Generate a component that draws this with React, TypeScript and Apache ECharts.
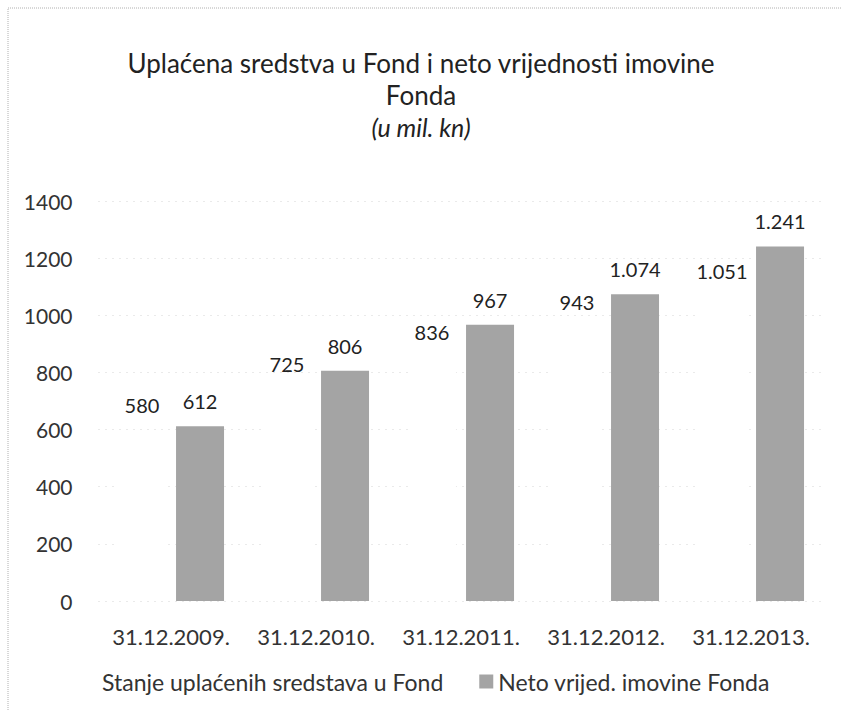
import React, { useEffect, useRef } from "react";
import * as echarts from "echarts";

const categories = ["31.12.2009.", "31.12.2010.", "31.12.2011.", "31.12.2012.", "31.12.2013."];
const uplacenaSredstva = [580, 725, 836, 943, 1051];
const netoImovina = [612, 806, 967, 1074, 1241];
const seriesNames = ["Stanje uplaćenih sredstava u Fond", "Neto vrijed. imovine Fonda"];
const titleLines = ["Uplaćena sredstva u Fond i neto vrijednosti imovine", "Fonda"];
const subtitle = "(u mil. kn)";

const FONT = "Lato";
const fmt = (v: number) => {
  const s = String(Math.round(v));
  return s.length > 3 ? s.slice(0, s.length - 3) + "." + s.slice(-3) : s;
};

export default function App() {
  const ref = useRef<HTMLDivElement>(null);
  useEffect(() => {
    const chart = echarts.init(ref.current!, null, { renderer: "svg" });
    chart.setOption({
      animation: false,
      backgroundColor: "#fff",
      textStyle: { fontFamily: FONT },
      title: {
        text: titleLines.join("\n"),
        subtext: subtitle,
        left: "center",
        top: 42,
        itemGap: 0,
        textStyle: { fontFamily: FONT, fontSize: 26, fontWeight: "normal", color: "#222", lineHeight: 32 },
        subtextStyle: { fontFamily: FONT, fontSize: 25, fontStyle: "italic", color: "#222", lineHeight: 32 },
      },
      graphic: [
        {
          type: "rect",
          shape: { x: 8, y: 8, width: 860, height: 740 },
          style: { fill: "none", stroke: "#b0b0b0", lineWidth: 1, lineDash: [1, 1] },
          silent: true,
        },
      ],
      legend: {
        left: 78,
        top: 665,
        itemWidth: 14,
        itemHeight: 14,
        itemGap: 36,
        icon: "rect",
        textStyle: { fontFamily: FONT, fontSize: 23, color: "#333" },
        data: seriesNames,
      },
      grid: { left: 98.5, right: 18.5, top: 201, bottom: 109 },
      xAxis: {
        type: "category",
        data: categories,
        axisLine: { show: false },
        axisTick: { show: false },
        axisLabel: { fontFamily: FONT, fontSize: 22, color: "#333", margin: 24, interval: 0 },
      },
      yAxis: {
        type: "value",
        min: 0,
        max: 1400,
        interval: 200,
        axisLine: { show: false },
        axisTick: { show: false },
        axisLabel: {
          fontFamily: FONT,
          fontSize: 21,
          color: "#333",
          margin: 26,
          formatter: (v: number) => String(v),
        },
        splitLine: {
          show: true,
          lineStyle: { color: "#d4d4d4", type: [1, 6], width: 1 },
        },
      },
      series: [
        {
          name: seriesNames[0],
          type: "bar",
          data: uplacenaSredstva,
          barWidth: 48,
          barGap: "21%",
          itemStyle: { color: "#ffffff" },
          label: {
            show: true,
            position: "top",
            distance: 20,
            fontFamily: FONT,
            fontSize: 20,
            color: "#222",
            formatter: (p: any) => fmt(p.value),
          },
        },
        {
          name: seriesNames[1],
          type: "bar",
          data: netoImovina,
          barWidth: 48,
          itemStyle: { color: "#a4a4a4" },
          label: {
            show: true,
            position: "top",
            distance: 15,
            fontFamily: FONT,
            fontSize: 20,
            color: "#222",
            formatter: (p: any) => fmt(p.value),
          },
        },
      ],
    });
    return () => chart.dispose();
  }, []);
  return (
    <div
      ref={ref}
      style={{ position: "fixed", left: 0, top: 0, width: 842, height: 710 }}
    />
  );
}
